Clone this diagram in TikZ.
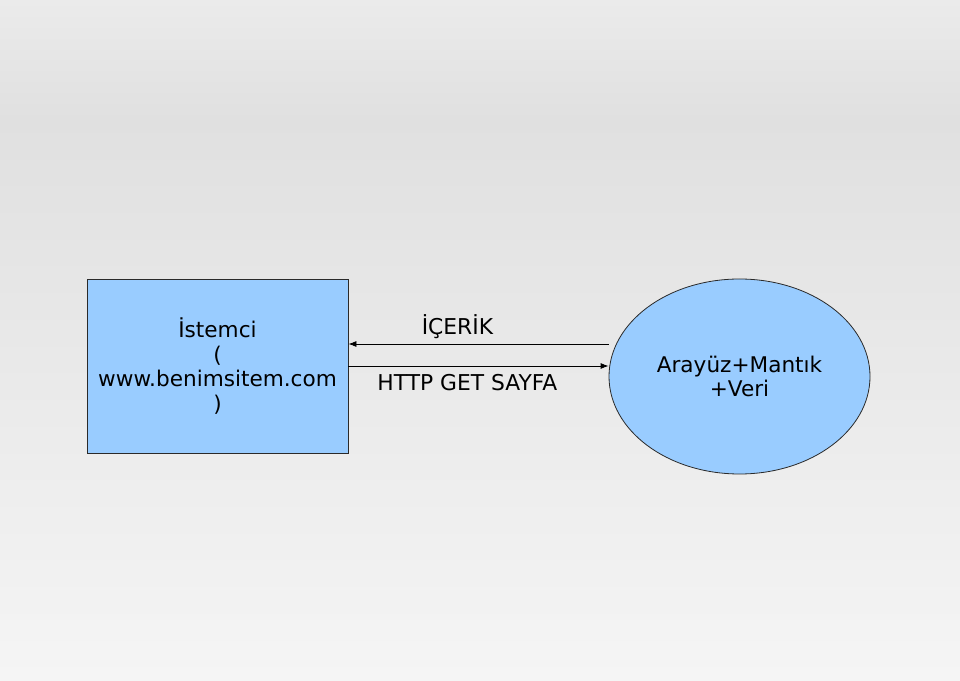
\documentclass[tikz,border=0pt]{standalone}
\usepackage{fontspec}
\setmainfont{DejaVu Sans}
\usetikzlibrary{arrows.meta,calc,positioning,shapes.geometric}
\definecolor{BgTop}{HTML}{EBEBEB}
\definecolor{BgMid}{HTML}{E0E0E0}
\definecolor{BgLow}{HTML}{F5F5F5}
\definecolor{Pale}{HTML}{99CCFF}
\definecolor{Edge}{HTML}{2A2A2A}

\begin{document}
\begin{tikzpicture}[x=1pt,y=1pt,
    blob/.style={draw=Edge,fill=Pale,line width=.8pt,font=\fontsize{21.6}{24.5}\selectfont,align=center,text=black},
    msg/.style={-{Latex[length=8pt,width=6pt]},line width=.8pt,draw=black},
    lbl/.style={font=\fontsize{21.8}{24.5}\selectfont,anchor=base}]
  % background
  \shade[top color=BgTop,bottom color=BgMid] (0,560) rectangle (960,680);
  \shade[top color=BgMid,bottom color=BgLow] (0,0) rectangle (960,561);
  \useasboundingbox (0,0) rectangle (960,680);
  % the two ends
  \node[blob,rectangle,minimum width=261pt,minimum height=174pt] (cli) at (217.5,314)
    {İstemci\\(\\www.benimsitem.com\\)};
  \node[blob,ellipse,minimum width=261pt,minimum height=195pt,inner sep=0pt] (srv) at (739.5,303.5)
    {Arayüz+Mantık\\+Veri};
  % messages
  \coordinate (getL) at (cli.east);
  \coordinate (getR) at (cli.east -| srv.west);
  \coordinate (resL) at ($(cli.east)+(0,22)$);
  \coordinate (resR) at (resL -| srv.west);
  \draw[msg] (resR) -- (resL);
  \draw[msg] (getL) -- (getR);
  \node[lbl] (res) at ($(resL)+(109,9)$) {İÇERİK};
  \node[lbl] (get) at ($(getL)+(119,-24.7)$) {HTTP GET SAYFA};
\end{tikzpicture}
\end{document}
